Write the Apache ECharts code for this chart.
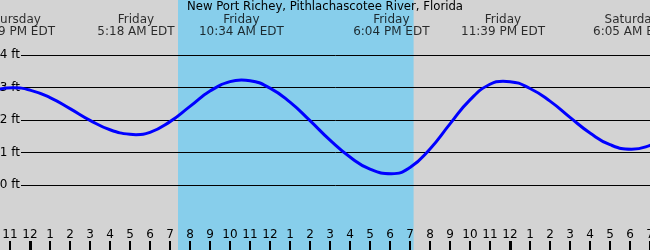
<!DOCTYPE html>
<html><head><meta charset="utf-8">
<script src="https://cdn.jsdelivr.net/npm/echarts@6/dist/echarts.min.js"></script>
<style>html,body{margin:0;padding:0;background:#d3d3d3}#c{width:650px;height:250px}</style>
</head><body><div id="c"></div>
<script>
const chartTitle = 'New Port Richey, Pithlachascotee River, Florida';
// hours relative to Friday 00:00 EDT
const hours   = [-2, -0.85, 0, 1, 2, 3, 4, 5, 5.3, 6, 7, 8, 9, 10, 10.57, 11, 12, 13, 14, 15, 16, 17, 18.07, 19, 20, 21, 22, 23, 23.65, 24, 25, 26, 27, 28, 29, 30.08, 31, 32];
const heights = [2.87, 2.99, 2.92, 2.69, 2.35, 1.99, 1.70, 1.56, 1.55, 1.62, 1.95, 2.42, 2.89, 3.18, 3.23, 3.21, 2.98, 2.55, 1.98, 1.38, 0.86, 0.49, 0.35, 0.54, 1.11, 1.88, 2.62, 3.10, 3.19, 3.18, 2.97, 2.58, 2.08, 1.60, 1.24, 1.10, 1.22, 1.50];
const eventDays  = ['Thursday', 'Friday', 'Friday', 'Friday', 'Friday', 'Saturday'];
const eventTimes = ['11:09 PM EDT', '5:18 AM EDT', '10:34 AM EDT', '6:04 PM EDT', '11:39 PM EDT', '6:05 AM EDT'];
const eventHours = [-0.85, 5.3, 10.567, 18.067, 23.65, 30.083];
const daylight = [7.4, 19.18];
const tickHours  = [-1,0,1,2,3,4,5,6,7,8,9,10,11,12,13,14,15,16,17,18,19,20,21,22,23,24,25,26,27,28,29,30,31];
const tickLabels = ['11','12','1','2','3','4','5','6','7','8','9','10','11','12','1','2','3','4','5','6','7','8','9','10','11','12','1','2','3','4','5','6','7'];
const midnightHours = [0, 24];

const FONT = 'DejaVu Sans';
const Y_MIN = -2, Y_MAX = 185 / 32.5;

const chart = echarts.init(document.getElementById('c'), null, {renderer: 'canvas'});
chart.setOption({
  animation: false,
  backgroundColor: '#d3d3d3',
  title: {
    text: chartTitle, left: 'center', top: 0, padding: [1, 0, 0, 0],
    textStyle: {fontSize: 11.7, fontWeight: 'normal', color: '#000', fontFamily: FONT}
  },
  grid: [
    {left: 0, right: 0, top: 0, bottom: 0, outerBoundsMode: 'none'},
    {left: 21, right: 0, top: 55, height: 130, outerBoundsMode: 'none'}
  ],
  xAxis: [
    {
      type: 'value', gridIndex: 0, min: -1.5, max: 31, position: 'bottom', z: 3,
      axisLine: {show: false, onZero: false}, splitLine: {show: false},
      axisTick: {show: false},
      axisLabel: {
        show: true, inside: true, margin: 9, customValues: tickHours,
        formatter: v => tickLabels[tickHours.indexOf(v)],
        color: '#000', fontSize: 12, fontFamily: FONT
      }
    },
    {type: 'value', gridIndex: 1, min: 0, max: 1, show: false, axisLine: {onZero: false}}
  ],
  yAxis: [
    {type: 'value', gridIndex: 0, min: Y_MIN, max: Y_MAX, show: false, axisLine: {onZero: false}},
    {
      type: 'value', gridIndex: 1, min: 0, max: 4, interval: 1, z: 3,
      axisLine: {show: false, onZero: false}, axisTick: {show: false},
      splitLine: {show: true, lineStyle: {color: '#000', width: 1}},
      axisLabel: {margin: 1, formatter: '{value} ft', color: '#000', fontSize: 12, fontFamily: FONT}
    }
  ],
  series: [
    {
      type: 'line', xAxisIndex: 0, yAxisIndex: 0,
      data: hours.map((h, i) => [h, heights[i]]),
      smooth: true, showSymbol: false, silent: true,
      lineStyle: {color: '#0000ff', width: 3},
      z: 4,
      markArea: {
        silent: true,
        itemStyle: {color: '#87ceeb', opacity: 1},
        data: [[{xAxis: daylight[0]}, {xAxis: daylight[1]}]]
      }
    },
    {
      type: 'custom', xAxisIndex: 0, yAxisIndex: 0, silent: true, z: 6, clip: false,
      data: tickHours.map(h => [h, midnightHours.indexOf(h) >= 0 ? 3 : 2]),
      renderItem: (params, api) => {
        const base = api.coord([api.value(0), Y_MIN]);
        const w = api.value(1);
        const x = Math.round(base[0] - w / 2);
        return {
          type: 'rect',
          shape: {x: x, y: 241, width: w, height: 9},
          style: {fill: '#000', stroke: null}
        };
      }
    },
    {
      type: 'scatter', xAxisIndex: 0, yAxisIndex: 0, silent: true,
      data: eventHours.map(h => [h, 4.9]),
      symbol: 'circle', symbolSize: 0, clip: false,
      label: {
        show: true, position: 'inside',
        formatter: p => eventDays[p.dataIndex] + '\n' + eventTimes[p.dataIndex],
        color: '#000', fontSize: 12, lineHeight: 12, fontFamily: FONT
      },
      z: 5
    }
  ]
});
</script></body></html>
